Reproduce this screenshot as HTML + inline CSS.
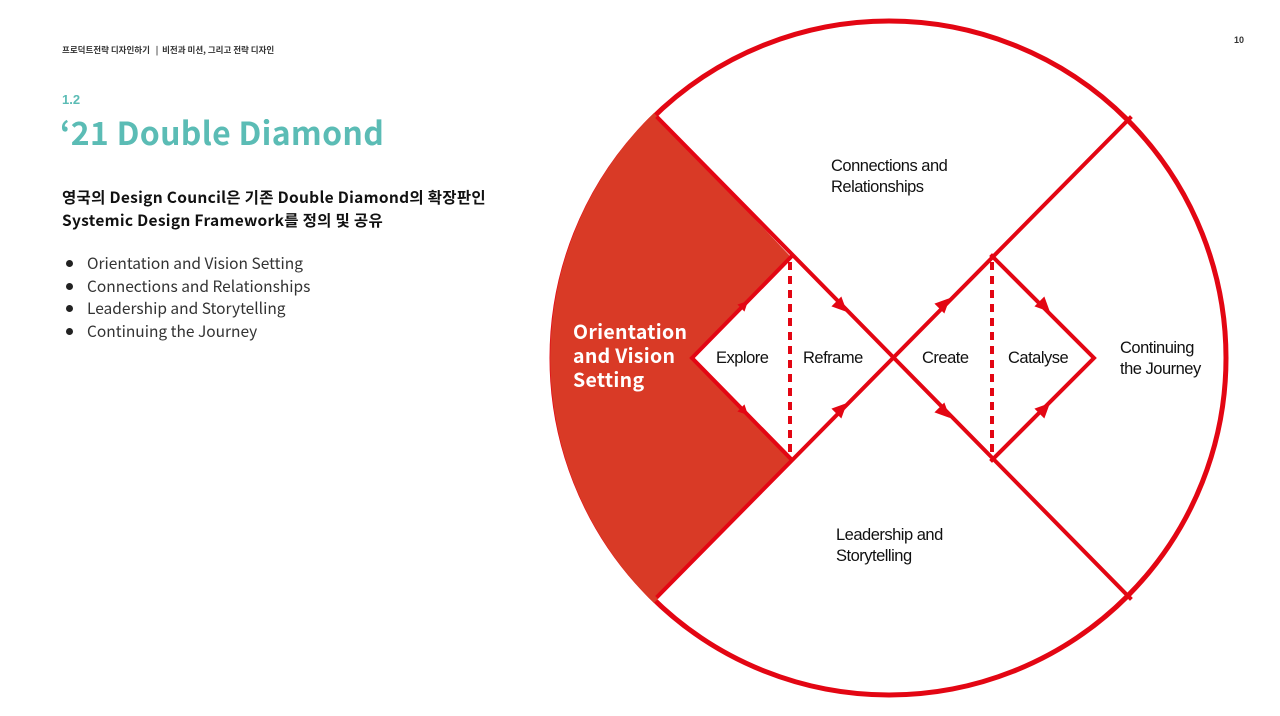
<!DOCTYPE html>
<html><head><meta charset="utf-8"><style>
body{margin:0;width:1280px;height:716px;background:#fff;overflow:hidden;position:relative;font-family:"Liberation Sans","Noto Sans CJK KR",sans-serif}
.a{position:absolute;white-space:nowrap}
.b{position:relative;padding-left:21px}
.b:before{content:"";position:absolute;left:0;top:8px;width:7px;height:7px;border-radius:50%;background:#222}
</style></head><body>
<div class="a" style="left:62px;top:44px;font-size:8.5px;font-weight:bold;color:#333;font-family:'Noto Sans CJK KR',sans-serif">프로덕트전략 디자인하기 &nbsp;&nbsp;| &nbsp;비전과 미션, 그리고 전략 디자인</div>
<div class="a" style="left:1234px;top:35px;font-size:9px;font-weight:bold;color:#333">10</div>
<div class="a" style="left:62px;top:92px;font-size:13px;font-weight:bold;color:#5bbcb5">1.2</div>
<div class="a" style="left:60px;top:110px;font-size:32px;font-weight:bold;color:#5bbcb5;font-family:'Noto Sans CJK KR','Liberation Sans',sans-serif;line-height:44px;letter-spacing:0.3px">‘21 Double Diamond</div>
<div class="a" style="left:62px;top:186px;font-size:15.5px;font-weight:bold;color:#111;line-height:23px;letter-spacing:0.3px;font-family:'Noto Sans CJK KR',sans-serif">영국의 Design Council은 기존 Double Diamond의 확장판인<br>Systemic Design Framework를 정의 및 공유</div>
<div class="a" style="left:66px;top:252px;font-size:15.5px;color:#333;line-height:22.5px;font-family:'Noto Sans CJK KR',sans-serif">
<div class="b">Orientation and Vision Setting</div>
<div class="b">Connections and Relationships</div>
<div class="b">Leadership and Storytelling</div>
<div class="b">Continuing the Journey</div></div>
<svg class="a" style="left:0;top:0" width="1280" height="716">
<circle cx="889" cy="358" r="337" fill="none" stroke="#e30613" stroke-width="5"/>
<path d="M654,113 A341,341 0 0 0 654,603 L791,459 L692,358 L791,257 Z" fill="#d93a26"/>
<g stroke="#e30613" stroke-width="4" fill="none" stroke-linecap="square">
<line x1="658" y1="118" x2="1130" y2="598"/>
<line x1="658" y1="596" x2="1130" y2="118"/>
<path d="M791,257 L692,358 L791,459"/>
<path d="M992,256 L1094,358 L992,460"/>
<line x1="790" y1="262" x2="790" y2="452" stroke-dasharray="8,6" stroke-linecap="butt"/>
<line x1="992" y1="262" x2="992" y2="452" stroke-dasharray="8,6" stroke-linecap="butt"/>
</g>
<g fill="#e30613">
<path d="M0,0 L-15,-7 L-15,7 Z" transform="translate(847,312) rotate(45)"/>
<path d="M0,0 L-15,-7 L-15,7 Z" transform="translate(847,403) rotate(-45)"/>
<path d="M0,0 L-15,-7 L-15,7 Z" transform="translate(950,298) rotate(-45)"/>
<path d="M0,0 L-15,-7 L-15,7 Z" transform="translate(950,418) rotate(45)"/>
<path d="M0,0 L-15,-7 L-15,7 Z" transform="translate(1050,312) rotate(45)"/>
<path d="M0,0 L-15,-7 L-15,7 Z" transform="translate(1050,403) rotate(-45)"/>
<path d="M0,0 L-10,-5 L-10,5 Z" transform="translate(748,301) rotate(-45)"/>
<path d="M0,0 L-10,-5 L-10,5 Z" transform="translate(748,415) rotate(45)"/>
</g>
<g font-family="Liberation Sans,sans-serif" font-size="16.5" fill="#111" letter-spacing="-0.5">
<text x="716" y="363">Explore</text>
<text x="803" y="363">Reframe</text>
<text x="922" y="363">Create</text>
<text x="1008" y="363">Catalyse</text>
<text x="831" y="171">Connections and</text>
<text x="831" y="192">Relationships</text>
<text x="836" y="540">Leadership and</text>
<text x="836" y="561">Storytelling</text>
<text x="1120" y="353">Continuing</text>
<text x="1120" y="374">the Journey</text>
</g>
<g font-family="Noto Sans CJK KR,Liberation Sans,sans-serif" font-size="19.5" font-weight="bold" fill="#fff" letter-spacing="0.3">
<text x="573" y="339">Orientation</text>
<text x="573" y="363">and Vision</text>
<text x="573" y="387">Setting</text>
</g>
</svg>
</body></html>
